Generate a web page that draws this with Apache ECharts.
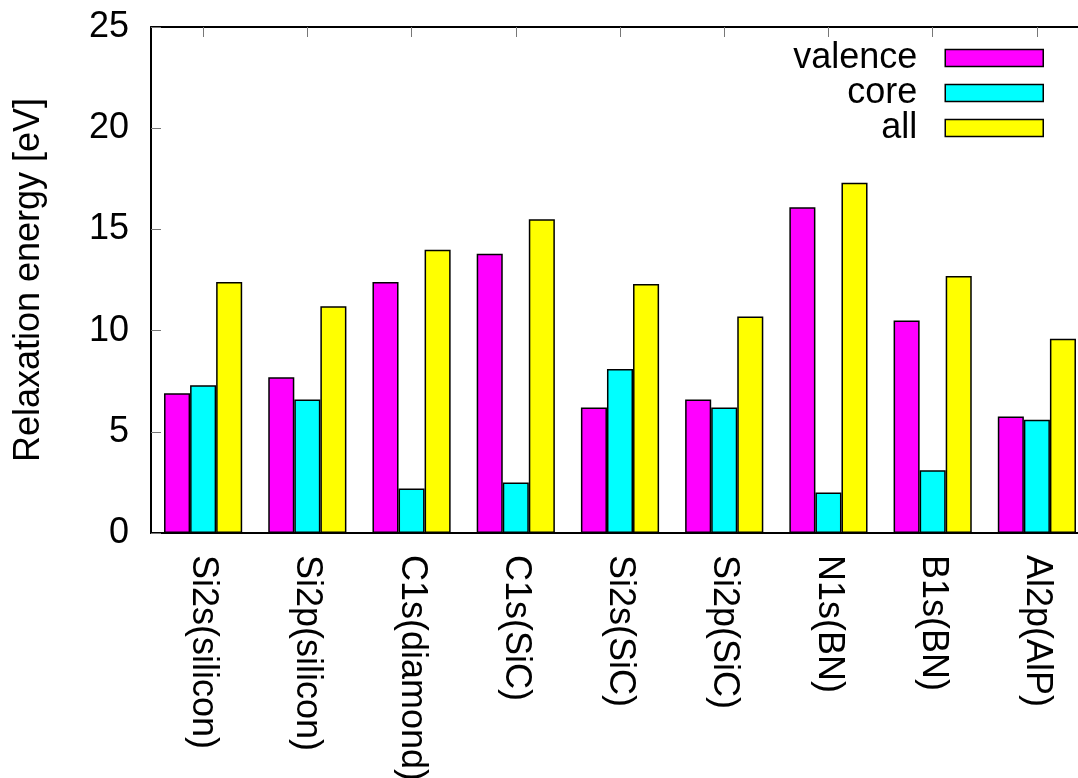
<!DOCTYPE html>
<html>
<head>
<meta charset="utf-8">
<script src="https://cdn.jsdelivr.net/npm/echarts@6/dist/echarts.min.js"></script>
<style>html,body{margin:0;padding:0;background:#fff}#c{width:1078px;height:778px}</style>
</head>
<body>
<div id="c"></div>
<script>
var categories = ['Si2s(silicon)', 'Si2p(silicon)', 'C1s(diamond)', 'C1s(SiC)', 'Si2s(SiC)', 'Si2p(SiC)', 'N1s(BN)', 'B1s(BN)', 'Al2p(AlP)'];
var valence = [6.9, 7.7, 12.4, 13.8, 6.2, 6.6, 16.1, 10.5, 5.75];
var core = [7.3, 6.6, 2.2, 2.5, 8.1, 6.2, 2.0, 3.1, 5.6];
var all = [12.4, 11.2, 14.0, 15.5, 12.3, 10.7, 17.3, 12.7, 9.6];
var yTicks = [0, 5, 10, 15, 20, 25];

var FONT = 'Liberation Sans';
var chart = echarts.init(document.getElementById('c'), null, {renderer: 'canvas'});
var tickStyle = {show: true, inside: true, length: 10, lineStyle: {color: '#777', width: 1}};
var lineStyle = {show: true, onZero: false, lineStyle: {color: '#000', width: 2}};
function bar(name, data, color) {
  return {
    name: name, type: 'bar', data: data, barWidth: '25%', barGap: '0%',
    itemStyle: {color: color, borderColor: '#000', borderWidth: 1.5},
    emphasis: {disabled: true}, animation: false
  };
}
chart.setOption({
  animation: false,
  textStyle: {fontFamily: FONT},
  grid: {left: 151, top: 27, width: 938, height: 506, containLabel: false, outerBoundsMode: 'none'},
  legend: {
    orient: 'vertical', right: 34, top: 40, padding: 0, align: 'right',
    icon: 'rect', itemWidth: 98, itemHeight: 17, itemGap: -1,
    itemStyle: {borderColor: '#000', borderWidth: 1.5},
    textStyle: {fontFamily: FONT, fontSize: 36, color: '#000', padding: [0, 23, 0, 0]},
    selectedMode: false,
    data: ['valence', 'core', 'all']
  },
  xAxis: [{
    type: 'category', data: categories, position: 'bottom',
    axisLine: lineStyle,
    axisTick: Object.assign({alignWithLabel: true}, tickStyle),
    axisLabel: {interval: 0, rotate: -90, fontSize: 36, color: '#000', fontFamily: FONT, margin: 22},
    splitLine: {show: false}
  }, {
    type: 'category', data: categories, position: 'top',
    axisLine: lineStyle,
    axisTick: Object.assign({alignWithLabel: true}, tickStyle),
    axisLabel: {show: false},
    splitLine: {show: false}
  }],
  yAxis: [{
    type: 'value', min: yTicks[0], max: yTicks[yTicks.length - 1], interval: 5, position: 'left',
    name: 'Relaxation energy [eV]', nameLocation: 'middle', nameRotate: 90, nameGap: 104,
    nameTextStyle: {fontSize: 36, color: '#000', fontFamily: FONT},
    axisLine: lineStyle, axisTick: tickStyle,
    axisLabel: {fontSize: 36, color: '#000', fontFamily: FONT, margin: 22},
    splitLine: {show: false}
  }, {
    type: 'value', min: yTicks[0], max: yTicks[yTicks.length - 1], interval: 5, position: 'right',
    axisLine: lineStyle, axisTick: tickStyle,
    axisLabel: {show: false}, splitLine: {show: false}
  }],
  series: [
    bar('valence', valence, '#ff00ff'),
    bar('core', core, '#00ffff'),
    bar('all', all, '#ffff00')
  ]
});
</script>
</body>
</html>
